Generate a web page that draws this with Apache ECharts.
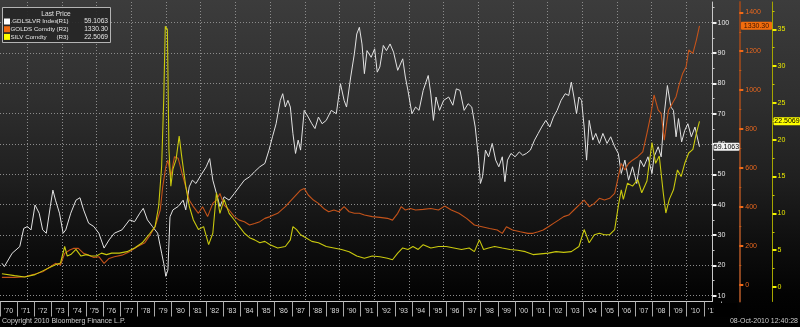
<!DOCTYPE html>
<html><head><meta charset="utf-8">
<script src="https://cdn.jsdelivr.net/npm/echarts@6/dist/echarts.min.js"></script>
<style>html,body{margin:0;padding:0;background:#000;}#c{width:800px;height:327px;}</style>
</head><body><div id="c"></div>
<script>
const yearLabels = ["'70","'71","'72","'73","'74","'75","'76","'77","'78","'79","'80","'81","'82","'83","'84","'85","'86","'87","'88","'89","'90","'91","'92","'93","'94","'95","'96","'97","'98","'99","'00","'01","'02","'03","'04","'05","'06","'07","'08","'09","'10","'11"];
const gridYears = [1972,1974,1976,1978,1980,1982,1984,1986,1988,1990,1992,1994,1996,1998,2000,2002,2004,2006,2008,2010];
const r1Ticks = [10,20,30,40,50,60,70,80,90,100];
const r1Minor = [15,25,35,45,55,65,75,85,95,105];
const r2Ticks = [0,200,400,600,800,1000,1200,1400];
const r2Minor = [100,300,500,700,900,1100,1300];
const r3Ticks = [0,5,10,15,20,25,30,35];
const r3Minor = [2.5,7.5,12.5,17.5,22.5,27.5,32.5,37.5];
const seriesNames = ['.GDLSLVR Index','GOLDS Comdty','SILV Comdty'];
const axisTags = ['(R1)','(R2)','(R3)'];
const lastPrices = ['59.1063','1330.30','22.5069'];

const ratioDates = [1970.55,1970.69,1971.14,1971.58,1971.81,1972.02,1972.23,1972.46,1972.70,1972.90,1973.11,1973.34,1973.49,1973.64,1973.87,1974.08,1974.23,1974.52,1974.82,1975.05,1975.26,1975.55,1975.85,1976.14,1976.44,1976.73,1977.03,1977.47,1977.91,1978.20,1978.50,1978.70,1978.94,1979.23,1979.53,1979.76,1979.88,1980.00,1980.12,1980.24,1980.41,1980.71,1981.00,1981.15,1981.35,1981.53,1981.74,1982.03,1982.33,1982.53,1982.71,1982.92,1983.12,1983.36,1983.65,1983.95,1984.24,1984.53,1984.83,1985.12,1985.42,1985.71,1985.95,1986.15,1986.36,1986.60,1986.74,1986.89,1987.04,1987.18,1987.33,1987.48,1987.63,1987.77,1987.98,1988.21,1988.42,1988.60,1988.80,1989.01,1989.25,1989.54,1989.83,1990.07,1990.28,1990.42,1990.66,1990.87,1991.01,1991.16,1991.31,1991.45,1991.60,1991.84,1992.04,1992.19,1992.34,1992.54,1992.72,1992.93,1993.13,1993.37,1993.66,1993.81,1993.96,1994.19,1994.40,1994.60,1994.84,1995.13,1995.28,1995.43,1995.58,1995.78,1996.02,1996.31,1996.55,1996.75,1996.96,1997.20,1997.43,1997.64,1997.84,1998.02,1998.14,1998.26,1998.43,1998.61,1998.82,1999.02,1999.20,1999.40,1999.55,1999.70,1999.90,2000.14,2000.38,2000.58,2000.79,2001.02,2001.26,2001.47,2001.67,2001.91,2002.14,2002.35,2002.56,2002.79,2003.03,2003.23,2003.38,2003.53,2003.68,2003.82,2003.97,2004.12,2004.26,2004.41,2004.62,2004.79,2005.00,2005.20,2005.44,2005.65,2005.88,2006.09,2006.26,2006.47,2006.68,2006.91,2007.15,2007.36,2007.56,2007.80,2008.03,2008.15,2008.39,2008.56,2008.74,2008.92,2009.12,2009.27,2009.42,2009.56,2009.74,2009.92,2010.10,2010.30,2010.51,2010.68,2010.77];
const ratioValues = [20.7,19.6,24.0,26.2,32.2,32.8,31.7,39.9,37.2,31.7,30.6,39.4,44.8,41.5,37.2,30.6,31.7,37.2,41.5,42.3,38.3,33.9,32.8,30.6,25.7,28.4,30.6,31.7,35.0,34.4,37.2,38.8,35.0,32.8,30.6,24.0,20.7,16.4,18.5,36.0,38.3,39.4,41.5,38.3,45.9,48.1,47.0,49.8,52.5,55.2,48.1,43.7,39.4,42.6,41.5,43.7,45.9,48.1,49.2,50.9,52.5,53.6,58.0,62.4,66.7,74.4,76.6,72.2,74.4,72.2,63.4,56.9,61.3,58.0,71.1,68.9,66.7,65.1,68.9,66.7,67.8,71.1,70.0,79.9,74.4,72.2,82.1,89.7,96.3,98.5,93.0,83.2,90.8,88.6,91.4,83.7,85.4,92.5,90.8,93.0,90.3,84.3,88.1,82.1,77.7,70.0,72.2,71.1,77.7,82.6,76.5,67.8,75.5,71.1,74.4,75.5,72.8,78.2,77.7,71.1,73.3,72.2,65.6,55.8,47.0,49.2,58.0,55.8,60.2,54.7,52.5,55.8,47.6,54.7,56.9,55.8,57.4,56.3,56.9,58.0,61.3,63.5,65.6,67.8,65.6,68.9,71.1,74.4,76.6,76.0,80.4,75.5,70.0,75.5,74.4,65.6,54.7,67.8,61.3,63.5,60.2,63.5,60.2,62.4,59.1,56.9,50.3,54.7,48.1,52.5,47.0,54.7,52.5,55.8,50.3,55.8,59.1,55.8,70.0,79.3,72.2,71.1,62.4,68.4,60.7,64.5,66.7,62.4,65.6,61.3,59.1063];

const goldDates = [1970.55,1971.28,1971.87,1972.46,1972.90,1973.34,1973.64,1973.93,1974.17,1974.46,1974.67,1974.96,1975.26,1975.55,1975.85,1976.14,1976.44,1976.73,1977.03,1977.47,1977.91,1978.35,1978.79,1979.09,1979.38,1979.68,1979.82,1980.00,1980.12,1980.29,1980.50,1980.71,1980.94,1981.15,1981.35,1981.59,1981.88,1982.12,1982.41,1982.71,1982.92,1983.12,1983.36,1983.65,1983.95,1984.24,1984.53,1984.83,1985.12,1985.42,1985.71,1986.01,1986.45,1986.89,1987.33,1987.77,1987.98,1988.21,1988.51,1988.80,1989.10,1989.39,1989.69,1989.98,1990.28,1990.57,1990.87,1991.16,1991.45,1991.90,1992.34,1992.78,1993.07,1993.37,1993.57,1993.81,1994.10,1994.40,1994.84,1995.28,1995.72,1996.08,1996.46,1996.90,1997.34,1997.79,1998.23,1998.67,1999.11,1999.40,1999.64,1999.99,2000.44,2000.88,2001.17,2001.47,2001.76,2002.06,2002.35,2002.64,2002.94,2003.23,2003.53,2003.82,2004.12,2004.41,2004.71,2005.00,2005.29,2005.59,2005.88,2006.09,2006.26,2006.47,2006.68,2006.91,2007.21,2007.50,2007.74,2007.94,2008.15,2008.39,2008.56,2008.74,2008.98,2009.21,2009.42,2009.56,2009.80,2010.00,2010.15,2010.39,2010.59,2010.77];
const goldValues = [37.7,37.7,41.1,54.8,66.8,92.5,109.6,101,161,178,186.7,186.7,161,152,140,144,110,135,144,152,170,195,216,255,298,384,503,606,640,555,658,650,572,503,435,401,367,401,350,418,435,469,409,384,350,332,324,307,315,324,341,350,367,401,444,486,495,461,435,418,392,375,384,375,401,375,367,367,358,350,346,341,332,367,401,384,392,384,387,392,384,404,384,367,341,307,298,289,281,264,298,281,272,264,264,272,281,298,315,332,350,358,384,409,435,401,418,444,435,444,469,555,623,589,623,640,658,683,778,863,975,897,880,743,897,932,966,1017,1086,1120,1206,1189,1257,1330.3];

const silverDates = [1970.55,1971.28,1971.87,1972.46,1973.05,1973.64,1973.93,1974.17,1974.32,1974.52,1974.82,1975.11,1975.41,1975.70,1976.00,1976.29,1976.58,1976.88,1977.32,1977.76,1978.20,1978.64,1979.09,1979.38,1979.59,1979.76,1979.88,1979.97,1980.09,1980.18,1980.29,1980.41,1980.59,1980.77,1980.94,1981.15,1981.35,1981.59,1981.88,1982.18,1982.47,1982.71,1982.92,1983.12,1983.36,1983.65,1983.95,1984.24,1984.53,1984.83,1985.12,1985.42,1985.71,1986.01,1986.45,1986.89,1987.18,1987.33,1987.54,1987.77,1988.07,1988.42,1988.80,1989.25,1989.69,1990.13,1990.57,1991.01,1991.45,1991.90,1992.34,1992.78,1993.07,1993.37,1993.66,1993.96,1994.25,1994.55,1994.84,1995.28,1995.72,1996.17,1996.61,1997.05,1997.49,1997.79,1998.08,1998.32,1998.61,1998.96,1999.40,1999.85,2000.29,2000.73,2001.17,2001.61,2002.06,2002.50,2002.94,2003.38,2003.82,2004.12,2004.41,2004.71,2005.00,2005.29,2005.59,2005.88,2006.09,2006.26,2006.38,2006.62,2006.91,2007.21,2007.44,2007.74,2008.03,2008.24,2008.45,2008.68,2008.83,2009.03,2009.27,2009.50,2009.71,2009.92,2010.15,2010.39,2010.59,2010.77];
const silverValues = [1.81,1.54,1.36,1.68,2.36,3.03,3.26,5.5,4.2,4.4,5.1,4.2,4.4,4.2,4.2,4.6,4.4,4.6,4.6,4.8,5.3,6.0,7.3,8.2,11.0,16.4,25.5,35.4,35.0,18.7,13.7,16.0,17.3,20.5,17.3,13.7,11.0,9.1,7.8,8.2,5.75,7.3,12.8,10.0,11.9,10.0,9.1,8.2,7.3,6.7,6.4,6.0,6.2,5.75,5.3,5.5,6.4,8.2,7.8,7.1,6.7,6.2,6.0,5.5,5.3,5.1,4.8,4.2,3.9,4.2,4.1,3.9,3.7,4.6,5.3,5.1,5.5,5.1,5.75,5.3,5.5,5.5,5.3,5.1,5.3,4.8,6.4,5.1,5.3,5.5,5.3,5.1,5.0,4.8,4.4,4.5,4.6,4.8,4.7,4.8,5.5,7.8,6.0,7.1,7.3,7.1,7.1,7.8,11.0,13.2,11.9,14.1,13.7,14.6,12.8,14.4,19.6,16.8,17.8,12.8,10.05,11.9,13.2,15.9,15.0,16.8,18.2,18.7,20.9,22.5069];

const FONT = 'Liberation Sans';
const zip = (a, b) => a.map((d, i) => [d, b[i]]);
const chart = echarts.init(document.getElementById('c'), null, {renderer: 'canvas'});
const gridBox = {top: 2, height: 299.5};
const colors = ['#e2e2e2', '#c4531a', '#c9c90e'];
const plain = (v) => String(v);
const dotted = {type: [1, 2], color: '#8c8c8c', width: 1};
const R1_MIN = 8.09, R1_MAX = 106.83;

const mc = document.createElement('canvas').getContext('2d');
const widthOf = (f) => { mc.font = '20px ' + f; return mc.measureText(seriesNames[0]).width; };
const narrowAvail = widthOf('"Liberation Sans Narrow", monospace') < widthOf('"Liberation Sans", monospace') * 0.9;
const LEGFONT = narrowAvail ? 'Liberation Sans Narrow' : 'Liberation Sans';
const tagColX = narrowAvail ? 50 : 56.5;

const option = {
  animation: false,
  backgroundColor: {type: 'linear', x: 0, y: 0, x2: 0, y2: 1, colorStops: [
    {offset: 0, color: '#3c3c3c'}, {offset: 0.3, color: '#2f2f2f'}, {offset: 0.55, color: '#1f1f1f'},
    {offset: 0.75, color: '#0e0e0e'}, {offset: 0.9, color: '#030303'}, {offset: 1, color: '#000'}]},
  textStyle: {fontFamily: FONT},
  grid: [
    {left: 0, top: gridBox.top, width: 712.5, height: gridBox.height, containLabel: false},
    {left: -7.7, top: gridBox.top, width: 728.7, height: gridBox.height, containLabel: false}
  ],
  xAxis: [
    {type: 'value', gridIndex: 0, min: 1970.44, max: 2011.52,
     axisLine: {show: true, onZero: false, lineStyle: {color: '#c8c8c8', width: 1}},
     axisTick: {show: false}, axisLabel: {show: false}, splitLine: {show: false}},
    {type: 'category', gridIndex: 1, data: yearLabels, boundaryGap: true, position: 'bottom',
     axisLine: {show: false},
     axisTick: {show: true, interval: 0, length: 15, lineStyle: {color: '#a8a8a8', width: 1}},
     axisLabel: {interval: 0, color: '#dcdcdc', fontSize: 7, margin: 6, fontFamily: FONT},
     splitLine: {show: false}}
  ],
  yAxis: [
    {type: 'value', gridIndex: 0, position: 'right', min: R1_MIN, max: R1_MAX,
     axisLine: {show: true, lineStyle: {color: '#c8c8c8', width: 1}},
     axisTick: {show: true, length: 4, customValues: r1Ticks, lineStyle: {color: '#f0f0f0', width: 2}},
     axisLabel: {customValues: r1Ticks, color: '#e8e8e8', fontSize: 7, margin: 5, fontFamily: FONT, formatter: plain},
     splitLine: {show: true, lineStyle: dotted}},
    {type: 'value', gridIndex: 0, position: 'right', offset: 26.8, min: -86.3, max: 1452.9,
     axisLine: {show: true, lineStyle: {color: '#8a4520', width: 2}},
     axisTick: {show: true, length: 4, customValues: r2Ticks, lineStyle: {color: '#f06a18', width: 2}},
     axisLabel: {customValues: r2Ticks, color: '#e8671e', fontSize: 7, margin: 6, fontFamily: FONT, formatter: plain},
     splitLine: {show: false}},
    {type: 'value', gridIndex: 0, position: 'right', offset: 60, min: -1.97, max: 38.71,
     axisLine: {show: true, lineStyle: {color: '#a5a500', width: 1}},
     axisTick: {show: true, length: 4, customValues: r3Ticks, lineStyle: {color: '#f0f000', width: 2}},
     axisLabel: {customValues: r3Ticks, color: '#e8e800', fontSize: 7, margin: 5, fontFamily: FONT, formatter: plain},
     splitLine: {show: false}},
    {type: 'value', gridIndex: 0, position: 'right', min: R1_MIN, max: R1_MAX,
     axisLine: {show: false}, axisLabel: {show: false}, splitLine: {show: false},
     axisTick: {show: true, length: 2, customValues: r1Minor, lineStyle: {color: '#c8c8c8'}}},
    {type: 'value', gridIndex: 0, position: 'right', offset: 26.8, min: -86.3, max: 1452.9,
     axisLine: {show: false}, axisLabel: {show: false}, splitLine: {show: false},
     axisTick: {show: true, length: 2, customValues: r2Minor, lineStyle: {color: '#c05a1a'}}},
    {type: 'value', gridIndex: 0, position: 'right', offset: 60, min: -1.97, max: 38.71,
     axisLine: {show: false}, axisLabel: {show: false}, splitLine: {show: false},
     axisTick: {show: true, length: 2, customValues: r3Minor, lineStyle: {color: '#c8c800'}}},
    {type: 'value', gridIndex: 1, show: false, min: 0, max: 1}
  ],
  series: [
    {name: seriesNames[0], type: 'line', xAxisIndex: 0, yAxisIndex: 0, data: zip(ratioDates, ratioValues),
     showSymbol: false, lineStyle: {color: colors[0], width: 1}, z: 3},
    {name: seriesNames[1], type: 'line', xAxisIndex: 0, yAxisIndex: 1, data: zip(goldDates, goldValues),
     showSymbol: false, lineStyle: {color: colors[1], width: 1.1}, z: 4},
    {name: seriesNames[2], type: 'line', xAxisIndex: 0, yAxisIndex: 2, data: zip(silverDates, silverValues),
     showSymbol: false, lineStyle: {color: colors[2], width: 1.1}, z: 5}
  ]
};
chart.setOption(option);

const g = [];
const font = (s, f) => s + 'px "' + (f || FONT) + '"';
// vertical dotted grid lines at the even-year boundaries, placed through the x scale
const yTop = chart.convertToPixel({yAxisIndex: 0}, R1_MAX);
const yBot = chart.convertToPixel({yAxisIndex: 0}, R1_MIN);
gridYears.forEach(yr => {
  const px = Math.round(chart.convertToPixel({xAxisIndex: 0}, yr)) + 0.5;
  g.push({type: 'line', shape: {x1: px, y1: yTop, x2: px, y2: yBot}, silent: true,
          style: {stroke: '#8c8c8c', lineWidth: 1, lineDash: [1, 2]}, z: 1});
});
g.push({type: 'rect', shape: {x: 2.5, y: 7.5, width: 108, height: 35}, style: {fill: 'rgba(38,38,38,0.92)', stroke: '#b4b4b4', lineWidth: 1}, z: 100});
g.push({type: 'text', x: 56, y: 14, style: {text: 'Last Price', fill: '#e4e4e4', font: font(6.6, LEGFONT), textAlign: 'center', textVerticalAlign: 'middle'}, z: 101});
const legendSwatch = ['#ffffff', '#f06a10', '#ffff00'];
for (let i = 0; i < 3; i++) {
  const yy = 21.5 + i * 7.7;
  g.push({type: 'rect', shape: {x: 4, y: yy - 3, width: 6, height: 6}, style: {fill: legendSwatch[i]}, z: 101});
  g.push({type: 'text', x: 10.5, y: yy, style: {text: seriesNames[i], fill: '#e4e4e4', font: font(6.2, LEGFONT), textVerticalAlign: 'middle'}, z: 101});
  g.push({type: 'text', x: tagColX, y: yy, style: {text: axisTags[i], fill: '#e4e4e4', font: font(6.2, LEGFONT), textVerticalAlign: 'middle'}, z: 101});
  g.push({type: 'text', x: 108, y: yy, style: {text: lastPrices[i], fill: '#e4e4e4', font: font(6.6, LEGFONT), textAlign: 'right', textVerticalAlign: 'middle'}, z: 101});
}
g.push({type: 'text', x: 2, y: 321.5, style: {text: 'Copyright 2010 Bloomberg Finance L.P.', fill: '#cfcfcf', font: font(7), textVerticalAlign: 'middle'}, z: 101});
g.push({type: 'text', x: 798, y: 321.5, style: {text: '08-Oct-2010 12:40:28', fill: '#cfcfcf', font: font(7), textAlign: 'right', textVerticalAlign: 'middle'}, z: 101});
g.push({type: 'rect', shape: {x: 713.5, y: 303, width: 24, height: 14}, style: {fill: '#000'}, z: 99});

const tagSpecs = [
  {axis: 0, value: ratioValues[ratioValues.length - 1], x: 713.5, w: 26, fill: '#f2f2f2', text: lastPrices[0], color: '#000'},
  {axis: 1, value: goldValues[goldValues.length - 1], x: 741, w: 31, fill: '#f26c0c', text: lastPrices[1], color: '#3a1500'},
  {axis: 2, value: silverValues[silverValues.length - 1], x: 773.5, w: 27, fill: '#ffff00', text: lastPrices[2], color: '#000'}
];
tagSpecs.forEach(t => {
  const py = chart.convertToPixel({yAxisIndex: t.axis}, t.value);
  g.push({type: 'rect', shape: {x: t.x, y: py - 4, width: t.w, height: 8, r: 1}, style: {fill: t.fill}, z: 110});
  g.push({type: 'text', x: t.x + t.w / 2, y: py, style: {text: t.text, fill: t.color, font: font(7), textAlign: 'center', textVerticalAlign: 'middle'}, z: 111});
});
chart.setOption({graphic: g});
</script>
</body></html>
